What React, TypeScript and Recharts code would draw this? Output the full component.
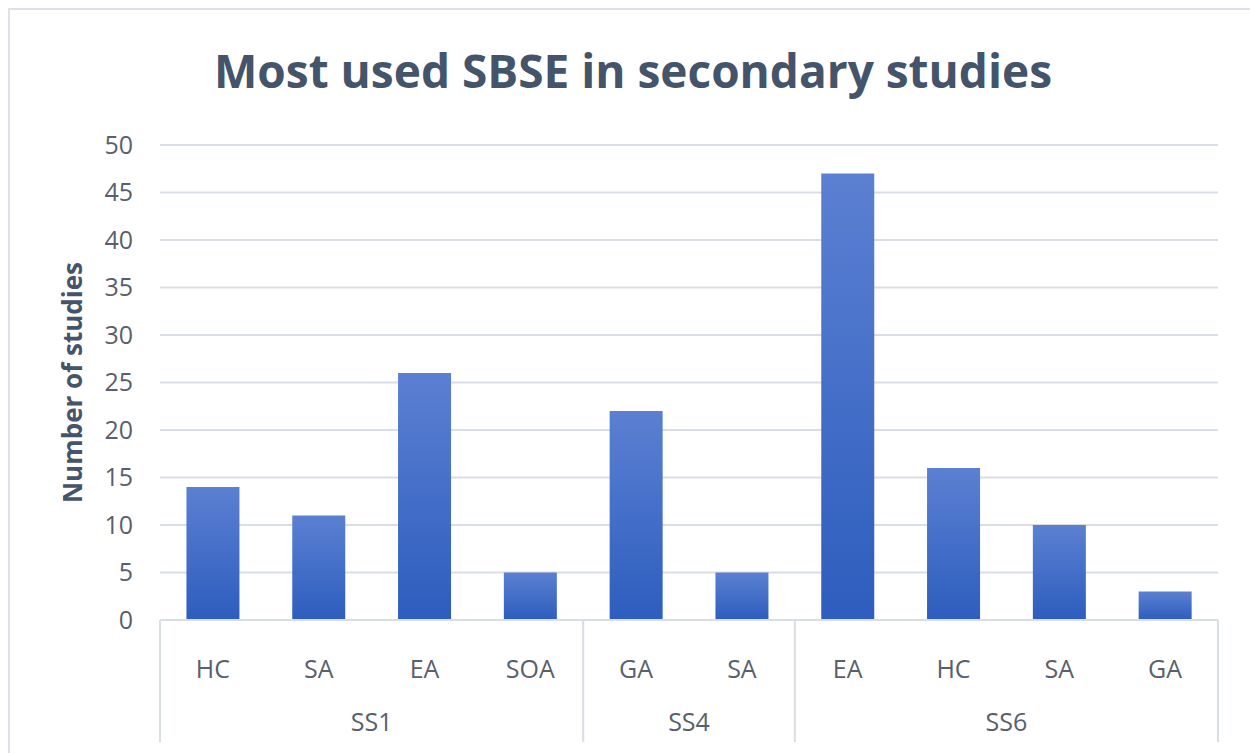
import React from "react";
import { BarChart, Bar, XAxis, YAxis, CartesianGrid } from "recharts";

const categories = ["HC", "SA", "EA", "SOA", "GA", "SA", "EA", "HC", "SA", "GA"];
const groupOf = ["SS1", "SS1", "SS1", "SS1", "SS4", "SS4", "SS6", "SS6", "SS6", "SS6"];
const values = [14, 11, 26, 5, 22, 5, 47, 16, 10, 3];
const yTicks = [0, 5, 10, 15, 20, 25, 30, 35, 40, 45, 50];

const data = categories.map((c, i) => ({ key: `${c}-${i}`, cat: c, group: groupOf[i], value: values[i] }));

const FONT = "'Open Sans', sans-serif";
const TEXT = "#44546A";
const TICK = "#595F6C";
const GRID = "#D9DDE5";

const GroupTick = (props: any) => {
  const { x, y, payload, index } = props;
  const i = index ?? payload.index;
  const half = payload.offset ?? 26;
  const band = half * 2;
  const g = groupOf[i];
  const first = i === 0 || groupOf[i - 1] !== g;
  const last = i === groupOf.length - 1;
  let size = 0;
  for (let k = i; k < groupOf.length && groupOf[k] === g; k++) size++;
  const lineH = 122;
  return (
    <g>
      <text x={x} y={y + 58} textAnchor="middle" fill={TICK} fontFamily={FONT} fontSize={25}>
        {categories[i]}
      </text>
      {first && (
        <>
          <line x1={x - half} x2={x - half} y1={y} y2={y + lineH} stroke={GRID} strokeWidth={2} />
          <text x={x - half + (size * band) / 2} y={y + 111} textAnchor="middle" fill={TICK} fontFamily={FONT} fontSize={25}>
            {g}
          </text>
        </>
      )}
      {last && <line x1={x + half} x2={x + half} y1={y} y2={y + lineH} stroke={GRID} strokeWidth={2} />}
    </g>
  );
};

const YLabel = (props: any) => {
  const vb = props.viewBox || {};
  const cx = (vb.x ?? 0) + 72;
  const cy = (vb.y ?? 0) + (vb.height ?? 0) / 2;
  return (
    <text
      x={cx}
      y={cy}
      transform={`rotate(-90, ${cx}, ${cy})`}
      textAnchor="middle"
      dominantBaseline="central"
      fill={TEXT}
      fontFamily={FONT}
      fontWeight={700}
      fontSize={26}
    >
      Number of studies
    </text>
  );
};

export default function App() {
  return (
    <div style={{ position: "absolute", left: 0, top: 0, width: 1250, height: 753, background: "#fff", overflow: "hidden" }}>
      <div
        style={{
          position: "absolute",
          left: 8,
          top: 8,
          width: 1260,
          height: 760,
          border: "2px solid #DCE1EA",
          boxSizing: "border-box",
        }}
      />
      <div
        style={{
          position: "absolute",
          left: 0,
          width: 1266,
          top: 40,
          textAlign: "center",
          fontFamily: FONT,
          fontWeight: 700,
          fontSize: 46,
          color: TEXT,
          lineHeight: "60px",
        }}
      >
        Most used SBSE in secondary studies
      </div>
      <div style={{ position: "absolute", left: 0, top: 0 }}>
        <BarChart
          width={1250}
          height={753}
          data={data}
          margin={{ top: 145, right: 32, left: 0, bottom: 0 }}
          barCategoryGap="25%"
        >
          <defs>
            <linearGradient id="barGrad" x1="0" y1="0" x2="0" y2="1">
              <stop offset="0%" stopColor="#5B80D2" />
              <stop offset="100%" stopColor="#2D5DBE" />
            </linearGradient>
          </defs>
          <CartesianGrid vertical={false} stroke={GRID} strokeWidth={2} />
          <XAxis
            dataKey="key"
            height={133}
            interval={0}
            tickLine={false}
            tickSize={0}
            tickMargin={0}
            axisLine={{ stroke: GRID, strokeWidth: 2 }}
            tick={<GroupTick />}
          />
          <YAxis
            width={160}
            domain={[0, 50]}
            ticks={yTicks}
            interval={0}
            axisLine={false}
            tickLine={false}
            tickSize={0}
            tickMargin={27}
            tick={{ fill: TICK, fontFamily: FONT, fontSize: 25 }}
            label={<YLabel />}
          />
          <Bar dataKey="value" fill="url(#barGrad)" isAnimationActive={false} />
        </BarChart>
      </div>
    </div>
  );
}
